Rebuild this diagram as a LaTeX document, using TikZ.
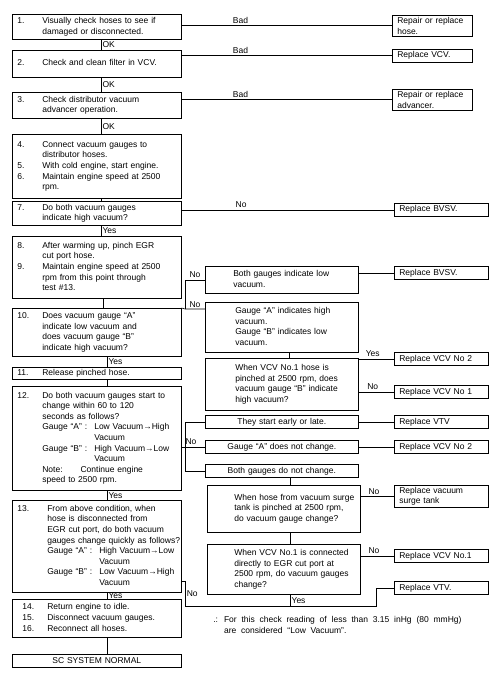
\documentclass[tikz,border=0pt]{standalone}
\usepackage{fontspec}
\setmainfont{Liberation Sans}

\begin{document}
\begin{tikzpicture}[x=1pt,y=-1pt,line width=0.6pt,
  font=\fontsize{8.5}{10.6}\selectfont,
  box/.style={draw,anchor=north west,inner xsep=5pt,inner ysep=0.5pt,align=left},
  lbox/.style={box,text width=159pt},
  mbox/.style={box,text width=143pt},
  rbox/.style={box,text width=84pt},
  lbl/.style={inner sep=1.5pt}]
  \useasboundingbox (0,0) rectangle (501,682);
  % linke Spalte
  \node[lbox,minimum height=25pt] (s1) at (12,14) {\begin{tabular}{@{}p{25pt}@{}l@{}}
    1. & Visually check hoses to see if\\ & damaged or disconnected.\end{tabular}};
  \node[lbox,minimum height=27pt] (s2) at (12,50) {\begin{tabular}{@{}p{25pt}@{}l@{}}
    2. & Check and clean filter in VCV.\end{tabular}};
  \node[lbox,minimum height=26pt] (s3) at (12,92) {\begin{tabular}{@{}p{25pt}@{}l@{}}
    3. & Check distributor vacuum\\ & advancer operation.\end{tabular}};
  \node[lbox,minimum height=64pt] (s4) at (12,134) {\begin{tabular}{@{}p{25pt}@{}l@{}}
    4. & Connect vacuum gauges to\\ & distributor hoses.\\
    5. & With cold engine, start engine.\\
    6. & Maintain engine speed at 2500\\ & rpm.\end{tabular}};
  \node[lbox,minimum height=24pt] (s7) at (12,201) {\begin{tabular}{@{}p{25pt}@{}l@{}}
    7. & Do both vacuum gauges\\ & indicate high vacuum?\end{tabular}};
  \node[lbox,minimum height=62pt] (s8) at (12,236) {\begin{tabular}{@{}p{25pt}@{}l@{}}
    8. & After warming up, pinch EGR\\ & cut port hose.\\
    9. & Maintain engine speed at 2500\\ & rpm from this point through\\ & test \#13.\end{tabular}};
  \node[lbox,minimum height=48pt] (s10) at (12,308) {\begin{tabular}{@{}p{25pt}@{}l@{}}
    10. & Does vacuum gauge “A”\\ & indicate low vacuum and\\
        & does vacuum gauge “B”\\ & indicate high vacuum?\end{tabular}};
  \node[lbox,minimum height=12pt] (s11) at (12,367) {\begin{tabular}{@{}p{25pt}@{}l@{}}
    11. & Release pinched hose.\end{tabular}};
  \node[lbox,minimum height=104pt] (s12) at (12,386) {\begin{tabular}{@{}p{25pt}@{}l@{}}
    12. & Do both vacuum gauges start to\\ & change within 60 to 120\\ & seconds as follows?\\
        & \makebox[52pt][l]{Gauge “A” :}Low Vacuum→High\\ & \hspace{52pt}Vacuum\\
        & \makebox[52pt][l]{Gauge “B” :}High Vacuum→Low\\ & \hspace{52pt}Vacuum\\
        & Note:\hspace{18pt}Continue engine\\ & speed to 2500 rpm.\end{tabular}};
  \node[lbox,minimum height=92pt] (s13) at (12,500) {\begin{tabular}{@{}p{30pt}@{}l@{}}
    13. & From above condition, when\\ & hose is disconnected from\\
        & EGR cut port, do both vacuum\\ & gauges change quickly as follows?\\
        & \makebox[52pt][l]{Gauge “A” :}High Vacuum→Low\\ & \hspace{52pt}Vacuum\\
        & \makebox[52pt][l]{Gauge “B” :}Low Vacuum→High\\ & \hspace{52pt}Vacuum\end{tabular}};
  \node[lbox,minimum height=38pt] (s14) at (12,599) {\begin{tabular}{@{\hspace{5pt}}p{25pt}@{}l@{}}
    14. & Return engine to idle.\\ 15. & Disconnect vacuum gauges.\\ 16. & Reconnect all hoses.\end{tabular}};
  \node[lbox,align=center,minimum height=13pt] (sc) at (12,654) {SC SYSTEM NORMAL};
  % mittlere Spalte
  \node[mbox,minimum height=27pt] (m1) at (205,266) {\begin{tabular}{@{\hspace{23pt}}l@{}}
    Both gauges indicate low\\ vacuum.\end{tabular}};
  \node[mbox,minimum height=50pt] (m2) at (205,302) {\begin{tabular}{@{\hspace{25pt}}l@{}}
    Gauge “A” indicates high\\ vacuum.\\ Gauge “B” indicates low\\ vacuum.\end{tabular}};
  \node[mbox,minimum height=52pt] (m3) at (205,358) {\begin{tabular}{@{\hspace{25pt}}l@{}}
    When VCV No.1 hose is\\ pinched at 2500 rpm, does\\ vacuum gauge “B” indicate\\ high vacuum?\end{tabular}};
  \node[mbox,align=center,minimum height=13pt] (m4) at (205,415) {They start early or late.};
  \node[mbox,align=center,minimum height=13pt] (m5) at (205,440) {Gauge “A” does not change.};
  \node[mbox,align=center,minimum height=13pt] (m6) at (205,464) {Both gauges do not change.};
  \node[mbox,minimum height=47pt] (m7) at (207,485) {\begin{tabular}{@{\hspace{22pt}}l@{}}
    When hose from vacuum surge\\ tank is pinched at 2500 rpm,\\ do vacuum gauge change?\end{tabular}};
  \node[mbox,minimum height=50pt] (m8) at (207,544) {\begin{tabular}{@{\hspace{22pt}}l@{}}
    When VCV No.1 is connected\\ directly to EGR cut port at\\ 2500 rpm, do vacuum gauges\\ change?\end{tabular}};
  % rechte Spalte
  \node[rbox,text width=70pt,minimum height=21pt] (r1) at (392,15) {Repair or replace\\hose.};
  \node[rbox,text width=70pt,minimum height=13pt] (r2) at (392,49) {Replace VCV.};
  \node[rbox,text width=70pt,minimum height=21pt] (r3) at (392,89) {Repair or replace\\advancer.};
  \node[rbox,minimum height=13pt] (r4) at (394,203) {Replace BVSV.};
  \node[rbox,minimum height=13pt] (r5) at (394,266) {Replace BVSV.};
  \node[rbox,minimum height=13pt] (r6) at (394,352) {Replace VCV No 2};
  \node[rbox,minimum height=13pt] (r7) at (394,385) {Replace VCV No 1};
  \node[rbox,minimum height=13pt] (r8) at (394,415) {Replace VTV};
  \node[rbox,minimum height=13pt] (r9) at (394,440) {Replace VCV No 2};
  \node[rbox,minimum height=22pt] (r10) at (394,485) {Replace vacuum\\surge tank};
  \node[rbox,minimum height=13pt] (r11) at (394,549) {Replace VCV No.1};
  \node[rbox,minimum height=13pt] (r12) at (394,581) {Replace VTV.};
  % Hinweis
  \node[anchor=north west,inner sep=0pt] (note) at (213,615)
    {\spaceskip=4.8pt\relax\begin{tabular}{@{}l@{\hspace{6pt}}l@{}}.: & For this check reading of less than 3.15 inHg (80 mmHg)\\
     & are considered “Low Vacuum”.\end{tabular}};
  % Hauptstrang
  \draw ([xshift=4pt]s1.south) -- ([xshift=4pt]s2.north) node[midway,right,lbl]{OK};
  \draw ([xshift=4pt]s2.south) -- ([xshift=4pt]s3.north) node[midway,right,lbl]{OK};
  \draw ([xshift=4pt]s3.south) -- ([xshift=4pt]s4.north) node[midway,right,lbl]{OK};
  \draw ([xshift=4pt]s4.south) -- ([xshift=4pt]s7.north);
  \draw ([xshift=4pt]s7.south) -- ([xshift=4pt]s8.north) node[midway,right,lbl]{Yes};
  \draw ([xshift=6pt]s8.south) -- ([xshift=6pt]s10.north);
  \draw ([xshift=10pt]s10.south) -- ([xshift=10pt]s11.north) node[midway,right,lbl]{Yes};
  \draw ([xshift=10pt]s11.south) -- ([xshift=10pt]s12.north);
  \draw ([xshift=10pt]s12.south) -- ([xshift=10pt]s13.north) node[midway,right,lbl]{Yes};
  \draw ([xshift=10pt]s13.south) -- ([xshift=10pt]s14.north) node[midway,right,lbl]{Yes};
  \draw ([xshift=10pt]s14.south) -- ([xshift=10pt]sc.north);
  % Abzweige nach rechts
  \draw (s1.east |- r1.west) -- (r1.west) node[pos=0.28,above,lbl]{Bad};
  \draw (s2.east |- r2.west) -- (r2.west) node[pos=0.28,above,lbl]{Bad};
  \draw (s3.east |- r3.west) -- (r3.west) node[pos=0.28,above,lbl]{Bad};
  \draw (s7.east |- r4.west) -- (r4.west) node[pos=0.28,above,lbl]{No};
  \coordinate (j1) at (185,309);
  \draw (s10.north east) -- (j1) -- (j1 -| m2.west) node[pos=0.5,above,lbl]{No};
  \draw (j1) |- (m1.west) node[pos=0.75,above,lbl]{No};
  \draw (m1.east |- r5.west) -- (r5.west);
  \draw ([xshift=7pt]m2.south) -- ([xshift=7pt]m3.north);
  \draw (m3.east |- r6.west) -- (r6.west) node[pos=0.4,above,lbl]{Yes};
  \draw (m3.east |- r7.west) -- (r7.west) node[pos=0.4,above,lbl]{No};
  \coordinate (j2) at (185,0);
  \draw (s12.east |- m5.west) -- (m5.west) node[pos=0.4,above,lbl]{No};
  \draw (j2 |- m5.west) |- (m4.west);
  \draw (j2 |- m5.west) |- (m6.west);
  \draw (m4.east) -- (r8.west);
  \draw (m5.east) -- (r9.west);
  \draw ([xshift=8pt]m6.south) -- ([xshift=6pt]m7.north);
  \draw ([xshift=6pt]m7.south) -- ([xshift=6pt]m8.north);
  \draw (m7.east |- r10.west) -- (r10.west) node[pos=0.4,above,lbl]{No};
  \draw (m8.east |- r11.west) -- (r11.west) node[pos=0.4,above,lbl]{No};
  \coordinate (j3) at (185,581);
  \coordinate (j4) at (376,606);
  \draw (s13.east |- j3) -- (j3) -- (j3 |- j4) node[midway,right,lbl]{No} -- (j4) |- (r12.west);
  \draw ([xshift=6pt]m8.south) -- ([xshift=6pt]m8.south |- j4) node[midway,right,lbl]{Yes};
\end{tikzpicture}
\end{document}
